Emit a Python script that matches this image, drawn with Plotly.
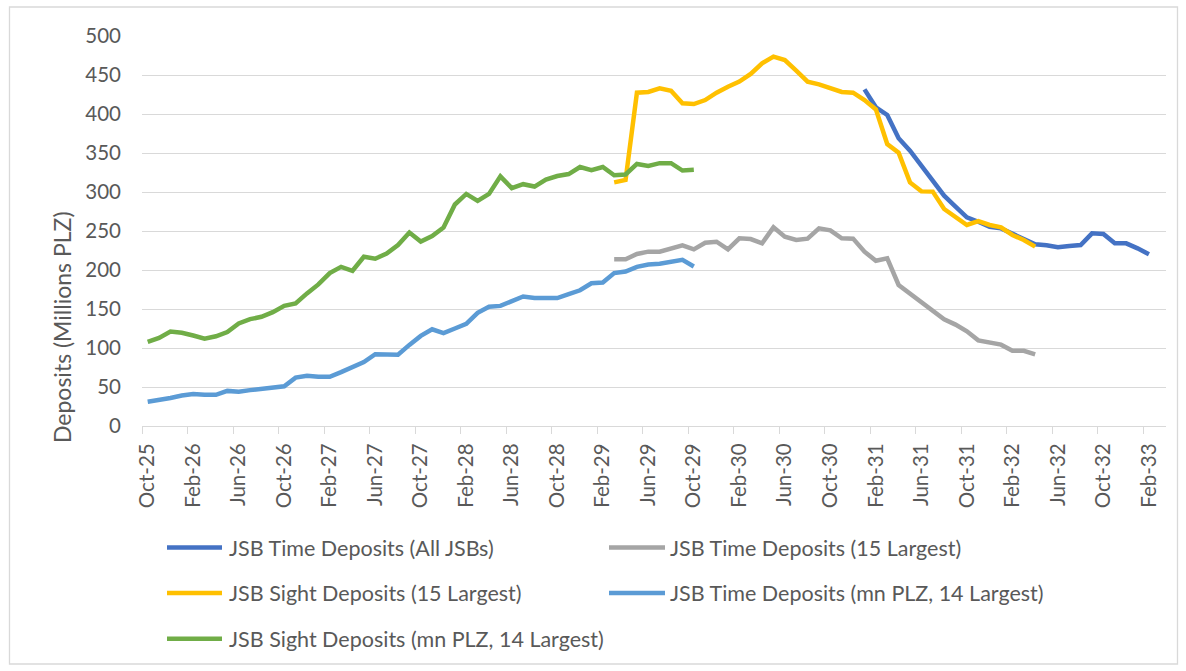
import plotly.graph_objects as go
import pandas as pd

# Monthly categories, Oct-25 .. Mar-33 (the axis runs one month past the last label)
months = list(pd.date_range("1925-10-01", "1933-03-01", freq="MS").strftime("%b-%y"))

tick_labels = ["Oct-25", "Feb-26", "Jun-26", "Oct-26", "Feb-27", "Jun-27", "Oct-27",
               "Feb-28", "Jun-28", "Oct-28", "Feb-29", "Jun-29", "Oct-29", "Feb-30",
               "Jun-30", "Oct-30", "Feb-31", "Jun-31", "Oct-31", "Feb-32", "Jun-32",
               "Oct-32", "Feb-33"]

# JSB Time Deposits (All JSBs), Jan-31 .. Feb-33
time_all_start = "Jan-31"
time_all = [431.6, 408.6, 398.7, 368.8, 352.9, 333.8, 314.5, 295.3, 281.2, 267.5,
            261.9, 255.5, 253.4, 247.0, 240.6, 232.9, 231.6, 229.1, 230.8, 232.1,
            247.0, 246.2, 234.2, 234.2, 227.8, 220.1]

# JSB Time Deposits (15 Largest), Mar-29 .. Apr-32
time_15_start = "Mar-29"
time_15 = [213.7, 213.7, 220.5, 223.5, 223.5, 227.8, 231.6, 226.5, 235.0, 236.3,
           226.5, 240.6, 239.7, 234.2, 254.7, 242.7, 238.5, 240.2, 253.4, 250.8,
           240.6, 240.2, 223.5, 211.9, 214.9, 180.8, 169.7, 158.1, 147.0, 136.8,
           130.0, 121.4, 109.8, 106.8, 104.3, 96.4, 96.4, 91.9]

# JSB Sight Deposits (15 Largest), Mar-29 .. Apr-32
sight_15_start = "Mar-29"
sight_15 = [312.3, 315.4, 427.4, 428.2, 432.9, 429.9, 413.7, 412.8, 417.9, 427.4,
            435.0, 441.5, 451.3, 465.0, 473.5, 469.2, 455.6, 441.5, 438.0, 433.8,
            428.2, 427.4, 417.9, 405.9, 361.5, 350.4, 312.3, 300.8, 300.5, 278.2,
            267.9, 257.7, 262.8, 257.7, 254.7, 244.9, 238.5, 230.0]

# JSB Time Deposits (mn PLZ, 14 Largest), Oct-25 .. Oct-29
time_14_start = "Oct-25"
time_14 = [31, 33, 36, 39, 41, 40, 40, 45, 44, 46, 48, 49.5, 51, 62, 64.5, 63, 63,
           69, 75, 82, 92, 91.5, 91.5, 104, 115.5, 124, 119, 125, 131, 145, 153,
           154, 160, 166, 164, 164, 164, 169, 174, 183, 184, 196, 198, 204, 207,
           208, 211, 213, 204.5]

# JSB Sight Deposits (mn PLZ, 14 Largest), Oct-25 .. Oct-29
sight_14_start = "Oct-25"
sight_14 = [108, 113, 121, 119.5, 116, 112, 115, 120.5, 131.5, 137, 140, 146, 154,
            157, 170, 181.5, 196, 204, 199, 217, 214.5, 221, 232, 248, 236.5, 243.5,
            254.5, 284, 297.5, 288.5, 297.5, 320, 305, 310, 307, 316, 320.5, 323,
            332, 328, 332, 321.5, 322.5, 336, 333.5, 337, 337, 327.5, 328.5]

series = [
    ("JSB Time Deposits (All JSBs)", time_all_start, time_all, "#4472C4"),
    ("JSB Time Deposits (15 Largest)", time_15_start, time_15, "#A5A5A5"),
    ("JSB Sight Deposits (15 Largest)", sight_15_start, sight_15, "#FFC000"),
    ("JSB Time Deposits (mn PLZ, 14 Largest)", time_14_start, time_14, "#5B9BD5"),
    ("JSB Sight Deposits (mn PLZ, 14 Largest)", sight_14_start, sight_14, "#70AD47"),
]

FONT = "Lato"
TEXT = "#595959"
GRID = "#D9D9D9"

W, H = 1186, 671
ML, MR, MT, MB = 142, 20, 36, 245
PW, PH = W - ML - MR, H - MT - MB


def px(x):
    return (x - ML) / PW


def py(y):
    return (H - MB - y) / PH


fig = go.Figure()
for name, start, vals, color in series:
    i0 = months.index(start)
    fig.add_trace(go.Scatter(
        x=list(range(i0, i0 + len(vals))), y=vals, name=name, mode="lines",
        line=dict(color=color, width=4.5), showlegend=False,
        customdata=months[i0:i0 + len(vals)],
        hovertemplate="%{customdata}: %{y}<extra>" + name + "</extra>",
    ))

# Legend drawn as two columns of line swatches and labels
legend_cols = [(167, 222, 227), (609, 665, 668)]
legend_rows = [547.5, 593, 638.7]
shapes, annotations = [], []
for k, (name, _, _, color) in enumerate(series):
    x0, x1, xt = legend_cols[k % 2]
    yy = legend_rows[k // 2]
    shapes.append(dict(type="line", xref="paper", yref="paper",
                       x0=px(x0), x1=px(x1), y0=py(yy), y1=py(yy),
                       line=dict(color=color, width=4.5)))
    annotations.append(dict(text=name, xref="paper", yref="paper", x=px(xt), y=py(yy),
                            xanchor="left", yanchor="middle", showarrow=False,
                            font=dict(family=FONT, size=21.5, color=TEXT)))

# Outer chart border
shapes.append(dict(type="rect", xref="paper", yref="paper",
                   x0=px(9.5), x1=px(1177.5), y0=py(7), y1=py(664),
                   line=dict(color=GRID, width=1.3), layer="below"))

annotations.append(dict(text="Deposits (Millions PLZ)", xref="paper", yref="paper",
                        x=px(62), y=py(327), textangle=-90, showarrow=False,
                        xanchor="center", yanchor="middle",
                        font=dict(family=FONT, size=23, color=TEXT)))

tick_idx = [months.index(t) for t in tick_labels]

fig.update_layout(
    width=W, height=H,
    margin=dict(l=ML, r=MR, t=MT, b=MB),
    paper_bgcolor="white", plot_bgcolor="white",
    shapes=shapes, annotations=annotations,
    xaxis=dict(
        range=[-0.5, len(months) - 0.5],
        tickmode="array", tickvals=tick_idx, ticktext=tick_labels,
        tickangle=-90, ticks="outside", ticklen=8, tickcolor="rgba(0,0,0,0)",
        tickfont=dict(family=FONT, size=20.5, color=TEXT),
        minor=dict(tickmode="array", tickvals=[i - 0.5 for i in tick_idx],
                   ticks="outside", ticklen=7, tickcolor=GRID, tickwidth=1,
                   showgrid=False),
        showgrid=False, zeroline=False,
        showline=True, linecolor=GRID, linewidth=1.3,
    ),
    yaxis=dict(
        range=[0, 500], tickmode="linear", tick0=0, dtick=50,
        showgrid=True, gridcolor=GRID, gridwidth=1.3,
        zeroline=False, showline=False, ticks="",
        ticklabelstandoff=20,
        tickfont=dict(family=FONT, size=20.5, color=TEXT),
    ),
)

fig.write_html("out.html")
